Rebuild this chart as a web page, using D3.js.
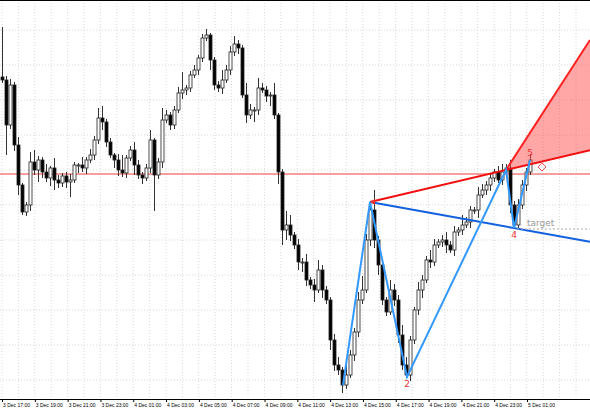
<!DOCTYPE html>
<html><head><meta charset="utf-8">
<script src="https://cdn.jsdelivr.net/npm/d3@7/dist/d3.min.js"></script>
<style>body{margin:0;background:#fff}svg{display:block}</style>
</head><body><svg id="c" width="590" height="410"></svg>
<script>
const closes=[330,285,325,265,225,198,205,248,240,250,238,232,242,230,227,234,228,230,245,245,242,250,255,270,292,288,268,255,250,240,237,252,260,245,235,232,242,270,235,248,290,295,285,300,317,320,322,335,340,352,372,375,350,325,322,330,340,358,366,362,315,295,300,300,322,320,314,315,295,238,180,185,175,165,148,148,130,125,120,140,120,110,70,45,40,25,35,55,78,110,120,170,200,170,145,110,98,120,110,75,45,35,70,100,120,130,150,148,165,168,170,165,160,178,180,185,188,200,200,215,220,225,232,238,230,238,242,205,185,205,225,238,250];
const upWick=[50,4,6,3,8,2,3,10,12,4,3,8,2,10,5,3,4,6,3,2,8,3,6,4,10,12,3,4,2,6,15,3,4,8,5,3,4,10,2,4,12,5,3,4,6,18,3,4,5,3,4,6,2,3,4,10,5,6,8,4,3,12,6,3,10,5,4,3,12,2,3,14,10,3,6,4,8,3,6,10,5,4,3,6,8,3,10,5,4,8,14,6,8,20,4,6,3,10,6,5,10,8,4,3,8,5,4,10,6,3,5,8,4,6,3,10,5,4,3,8,6,4,5,3,6,8,4,8,4,6,5,4,6];
const downWick=[3,30,4,6,10,3,4,6,5,12,6,4,8,10,5,4,6,15,3,8,4,6,3,5,4,8,5,3,8,6,4,5,3,10,4,6,3,5,36,4,6,3,5,4,3,6,5,4,3,5,4,3,10,5,4,6,3,5,4,6,3,8,4,12,5,3,6,10,4,12,15,10,6,4,8,10,6,4,12,3,8,4,10,6,5,8,4,3,6,5,4,3,6,8,10,5,4,3,6,8,5,3,6,4,5,8,3,6,4,3,5,8,3,6,4,5,3,6,4,8,3,5,6,4,3,5,4,8,3,5,4,6,3];
const timeLabels=["3 Dec 17:00","3 Dec 19:00","3 Dec 21:00","3 Dec 23:00","4 Dec 01:00","4 Dec 03:00","4 Dec 05:00","4 Dec 07:00","4 Dec 09:00","4 Dec 11:00","4 Dec 13:00","4 Dec 15:00","4 Dec 17:00","4 Dec 19:00","4 Dec 21:00","4 Dec 23:00","5 Dec 01:00"];
const zigzag=[[85.25,25],[92,208],[101.25,33],[126,240],[128,182],[132,250]];
const pointLabels=[["2",101.25,33,10],["4",128,182,10],["5",132,250,-4]];
const levelPrice=236, targetPrice=181;

const svg=d3.select("#c");
const n=closes.length;
const x=d3.scaleLinear().domain([0,n-1]).range([2,2+4*(n-1)]);
const y=d3.scaleLinear().domain([0,410]).range([410,0]);
const W=590, H=399;
const g=svg.append("g");
svg.append("clipPath").attr("id","cl").append("rect").attr("width",W).attr("height",H);
for(let gx=2;gx<W;gx+=16.4) g.append("line").attr("x1",gx).attr("x2",gx).attr("y1",0).attr("y2",H).attr("stroke","#d8d8d8").attr("stroke-dasharray","1,2");
for(let gy=30;gy<H;gy+=35) g.append("line").attr("x1",0).attr("x2",W).attr("y1",gy).attr("y2",gy).attr("stroke","#d8d8d8").attr("stroke-dasharray","1,2");
g.append("line").attr("x1",0).attr("x2",W).attr("y1",0.5).attr("y2",0.5).attr("stroke","#000");
g.append("line").attr("x1",0).attr("x2",W).attr("y1",y(levelPrice)).attr("y2",y(levelPrice)).attr("stroke","#f04040").attr("stroke-width",1);
const cg=svg.append("g").attr("clip-path","url(#cl)");
closes.forEach((c,i)=>{
  const o=i?closes[i-1]:c+3; const hi=Math.max(o,c)+upWick[i], lo=Math.min(o,c)-downWick[i];
  const xi=Math.round(x(i))+0.5;
  cg.append("line").attr("x1",xi).attr("x2",xi).attr("y1",y(hi)).attr("y2",y(lo)).attr("stroke","#333");
  const top=y(Math.max(o,c)), h=Math.max(1,Math.abs(y(o)-y(c)));
  cg.append("rect").attr("x",xi-1.5).attr("y",top).attr("width",3).attr("height",h)
    .attr("fill",c>=o?"#fff":"#000").attr("stroke","#222").attr("stroke-width",0.8);
});
const p1=zigzag[1], p3=zigzag[3], p4=zigzag[4];
const xEnd=x.invert(W);
const ext=(a,b)=>[xEnd,a[1]+(b[1]-a[1])*(xEnd-a[0])/(b[0]-a[0])];
const pg=svg.append("g").attr("clip-path","url(#cl)");
const rEnd=ext(p1,p3), bEnd=ext(p1,p4);
pg.append("path").attr("d",d3.line()([[x(p3[0]),y(p3[1])],[x(xEnd),y(370)],[x(rEnd[0]),y(rEnd[1])]])+"Z").attr("fill","rgba(255,80,80,0.5)");
pg.append("line").attr("x1",x(p3[0])).attr("y1",y(p3[1])).attr("x2",x(xEnd)).attr("y2",y(370)).attr("stroke","#ff2020").attr("stroke-width",2);
pg.append("line").attr("x1",x(p1[0])).attr("y1",y(p1[1])).attr("x2",x(rEnd[0])).attr("y2",y(rEnd[1])).attr("stroke","#f01010").attr("stroke-width",2);
pg.append("line").attr("x1",x(p1[0])).attr("y1",y(p1[1])).attr("x2",x(bEnd[0])).attr("y2",y(bEnd[1])).attr("stroke","#1060e0").attr("stroke-width",2);
pg.append("path").attr("d",d3.line().x(d=>x(d[0])).y(d=>y(d[1]))(zigzag)).attr("fill","none").attr("stroke","#3399ff").attr("stroke-width",2);
pg.append("line").attr("x1",x(128)+3).attr("x2",W).attr("y1",y(targetPrice)).attr("y2",y(targetPrice)).attr("stroke","#aaa").attr("stroke-dasharray","2,2");
svg.append("text").attr("x",527).attr("y",y(targetPrice)-3).text("target").attr("font-family","DejaVu Sans").attr("font-size",9).attr("fill","#999");
pointLabels.forEach(([t,i,p,dy])=>svg.append("text").attr("x",x(i)).attr("y",y(p)+dy).attr("text-anchor","middle").attr("font-family","DejaVu Sans").attr("font-size",9).attr("fill","#f03030").text(t));
svg.append("path").attr("d",`M${x(p1[0])},${y(p1[1])}l5,-3l0,6z`).attr("fill","#f03030");
svg.append("path").attr("d","M538,167l4,-4l4,4l-4,4z").attr("fill","none").attr("stroke","#f05050");
const t0=new Date(2023,11,3,17), t1=new Date(2023,11,5,1);
const tx=d3.scaleTime().domain([t0,t1]).range([2,527]);
const tickVals=timeLabels.map((_,k)=>d3.timeHour.offset(t0,2*k));
const ax=svg.append("g").attr("transform",`translate(0,${H})`).call(d3.axisBottom(tx).tickValues(tickVals).tickSize(3).tickPadding(1).tickFormat((d,k)=>timeLabels[k]));
ax.select(".domain").attr("d",`M0,0.5H${W}`);
ax.selectAll("text").attr("font-family","Liberation Sans").attr("font-size",5).attr("text-anchor","start").attr("dx",0.5).attr("fill","#000");
</script></body></html>
